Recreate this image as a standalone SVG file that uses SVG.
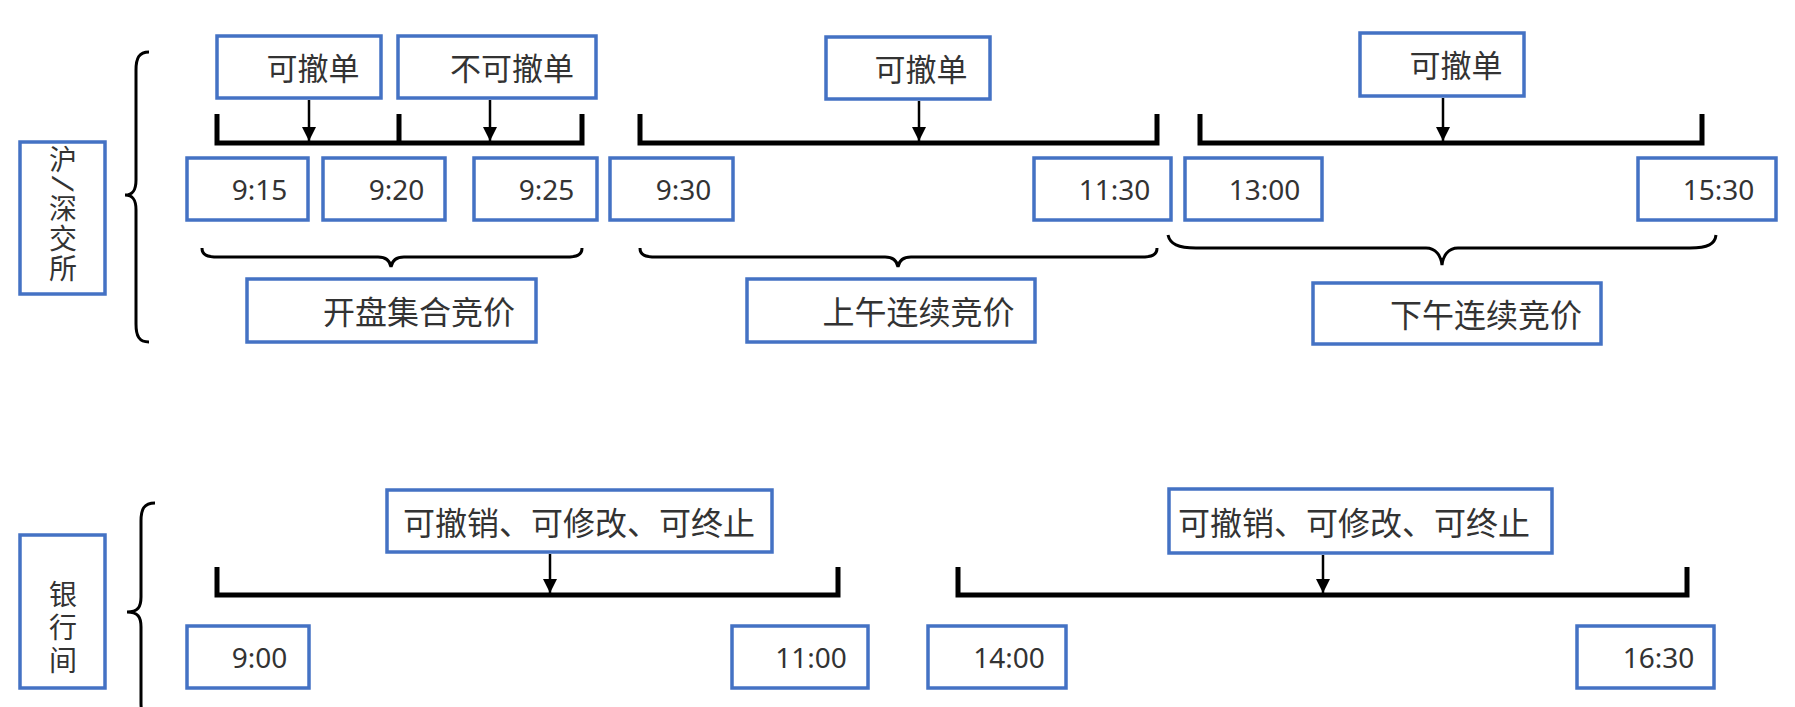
<svg xmlns="http://www.w3.org/2000/svg" width="1795" height="707" viewBox="0 0 1795 707">
<style>
.box{fill:#fff;stroke:#4472C4;stroke-width:3.5}
.cjk{font-family:"Noto Sans CJK SC","Noto Sans",sans-serif;fill:#333;text-anchor:middle}
.vert{font-family:"Noto Sans CJK SC","Noto Sans",sans-serif;fill:#333;writing-mode:vertical-rl;text-anchor:start}
.num{font-family:"Noto Sans","Liberation Sans",sans-serif;font-size:28px;fill:#333;text-anchor:middle}
.brk{fill:none;stroke:#000;stroke-width:5}
.arr{fill:none;stroke:#000;stroke-width:2.5}
.brace{fill:none;stroke:#000;stroke-width:3}
</style>
<defs>
<marker id="ah" markerWidth="14" markerHeight="14" refX="14" refY="7" orient="auto" markerUnits="userSpaceOnUse"><path d="M0,0 L14,7 L0,14 z" fill="#000"/></marker>
</defs>
<rect width="1795" height="707" fill="#fff"/>

<g id="connectors">
<path class="brace" d="M149,52 C139,52 136,58 136,70 L136,180 C136,190 133,195 125,195 C133,195 136,200 136,210 L136,324 C136,336 139,342 149,342"/>
<path class="brace" d="M155,503 C144,503 141,509 141,521 L141,597 C141,607 138,612 127,612 C138,612 141,617 141,627 L141,703 C141,715 144,721 155,721"/>
<path class="brk" d="M217,114 L217,143 L582,143 L582,114 M399,114 L399,143"/>
<path class="brk" d="M640,114 L640,143 L1157,143 L1157,114"/>
<path class="brk" d="M1200,114 L1200,143 L1702,143 L1702,114"/>
<path class="brk" d="M217,567 L217,595 L838,595 L838,567"/>
<path class="brk" d="M958,567 L958,595 L1687,595 L1687,567"/>
<line class="arr" x1="309" y1="100" x2="309" y2="141" marker-end="url(#ah)"/>
<line class="arr" x1="490" y1="100" x2="490" y2="141" marker-end="url(#ah)"/>
<line class="arr" x1="919" y1="101" x2="919" y2="141" marker-end="url(#ah)"/>
<line class="arr" x1="1443" y1="98" x2="1443" y2="141" marker-end="url(#ah)"/>
<line class="arr" x1="550" y1="554" x2="550" y2="593" marker-end="url(#ah)"/>
<line class="arr" x1="1323" y1="555" x2="1323" y2="593" marker-end="url(#ah)"/>
<path class="brace" d="M202,248 C202,255 207,257 218,257 L378,257 C386,257 390,261 391,267 C392,261 396,257 404,257 L566,257 C577,257 582,255 582,248"/>
<path class="brace" d="M640,248 C640,255 645,257 656,257 L885,257 C893,257 897,261 898,267 C899,261 903,257 911,257 L1141,257 C1152,257 1157,255 1157,248"/>
<path class="brace" d="M1168,235 C1170,244 1178,248 1196,248 L1426,248 C1436,248 1441,256 1442,265 C1443,256 1448,248 1458,248 L1690,248 C1708,248 1715,244 1716,235"/>
</g>

<g id="node-sz">
<rect class="box" x="20" y="142" width="85" height="152"/>
<text class="vert" font-size="28" x="63" y="145">沪</text>
<text font-family="Noto Sans, sans-serif" font-size="30" fill="#333" text-anchor="middle" transform="translate(52,181) rotate(90) skewX(-14)">/</text>
<text class="vert" font-size="28" letter-spacing="2" x="63" y="194">深交所</text>
</g>
<g id="node-yhj">
<rect class="box" x="20" y="535" width="85" height="153"/>
<text class="vert" font-size="28" letter-spacing="5" x="63" y="580">银行间</text>
</g>

<g id="node-kcd1"><rect class="box" x="217" y="36" width="164" height="62"/><text class="cjk" font-size="31" x="313" y="80">可撤单</text></g>
<g id="node-bkcd"><rect class="box" x="398" y="36" width="198" height="62"/><text class="cjk" font-size="31" x="512" y="80">不可撤单</text></g>
<g id="node-kcd2"><rect class="box" x="826" y="37" width="164" height="62"/><text class="cjk" font-size="31" x="921" y="81">可撤单</text></g>
<g id="node-kcd3"><rect class="box" x="1360" y="33" width="164" height="63"/><text class="cjk" font-size="31" x="1456" y="77">可撤单</text></g>

<g id="node-915"><rect class="box" x="187" y="158" width="121" height="62"/><text class="num" x="259.5" y="200">9:15</text></g>
<g id="node-920"><rect class="box" x="323" y="158" width="122" height="62"/><text class="num" x="396.5" y="200">9:20</text></g>
<g id="node-925"><rect class="box" x="474" y="158" width="123" height="62"/><text class="num" x="546.5" y="200">9:25</text></g>
<g id="node-930"><rect class="box" x="610" y="158" width="123" height="62"/><text class="num" x="683.5" y="200">9:30</text></g>
<g id="node-1130"><rect class="box" x="1034" y="158" width="137" height="62"/><text class="num" x="1114.5" y="200">11:30</text></g>
<g id="node-1300"><rect class="box" x="1185" y="158" width="137" height="62"/><text class="num" x="1264.5" y="200">13:00</text></g>
<g id="node-1530"><rect class="box" x="1638" y="158" width="138" height="62"/><text class="num" x="1718.5" y="200">15:30</text></g>

<g id="node-kpjh"><rect class="box" x="247" y="279" width="289" height="63"/><text class="cjk" font-size="32" x="419" y="324">开盘集合竞价</text></g>
<g id="node-swlx"><rect class="box" x="747" y="279" width="288" height="63"/><text class="cjk" font-size="32" x="918.5" y="324">上午连续竞价</text></g>
<g id="node-xwlx"><rect class="box" x="1313" y="283" width="288" height="61"/><text class="cjk" font-size="32" x="1486" y="327">下午连续竞价</text></g>

<g id="node-ops1"><rect class="box" x="387" y="490" width="385" height="62"/><text class="cjk" font-size="32" x="579" y="535">可撤销、可修改、可终止</text></g>
<g id="node-ops2"><rect class="box" x="1169" y="489" width="383" height="64"/><text class="cjk" font-size="32" x="1354" y="535">可撤销、可修改、可终止</text></g>

<g id="node-900"><rect class="box" x="187" y="626" width="122" height="62"/><text class="num" x="259.5" y="668">9:00</text></g>
<g id="node-1100"><rect class="box" x="732" y="626" width="136" height="62"/><text class="num" x="811" y="668">11:00</text></g>
<g id="node-1400"><rect class="box" x="928" y="626" width="138" height="62"/><text class="num" x="1009" y="668">14:00</text></g>
<g id="node-1630"><rect class="box" x="1577" y="626" width="137" height="62"/><text class="num" x="1658.5" y="668">16:30</text></g>
</svg>
